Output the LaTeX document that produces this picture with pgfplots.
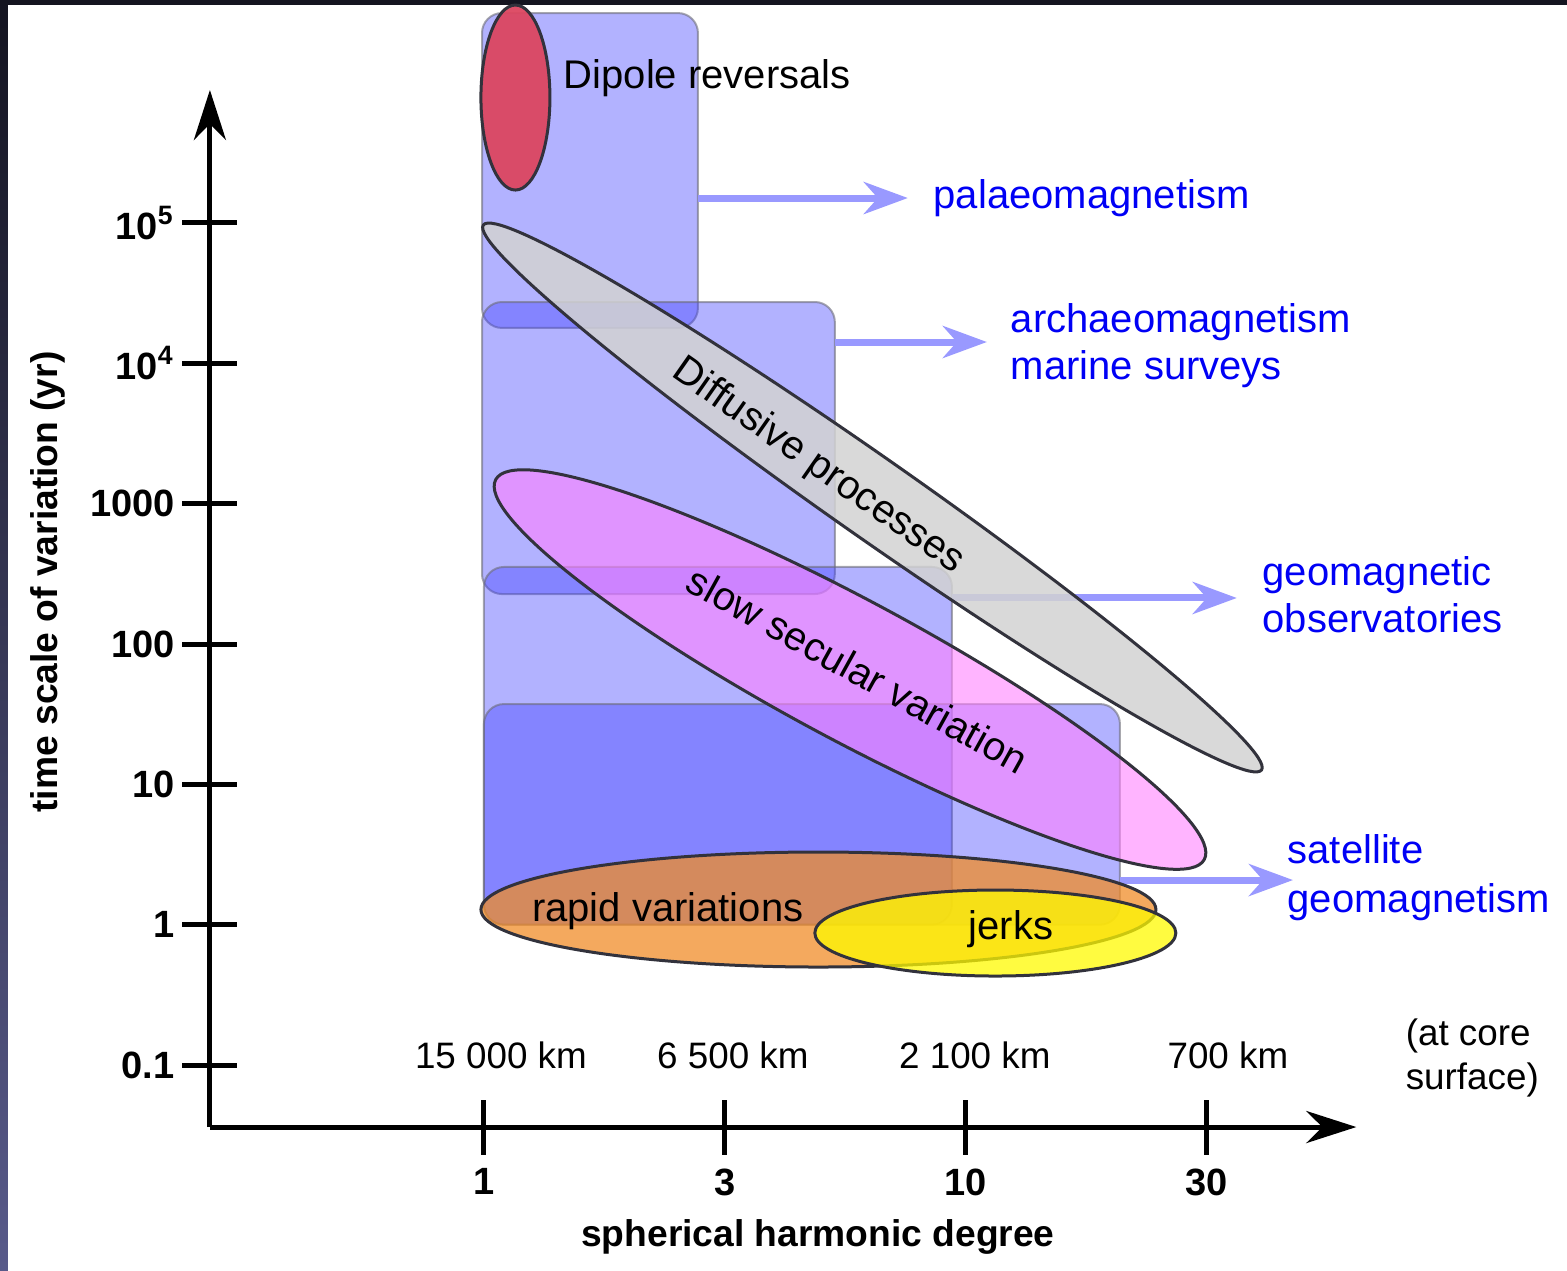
\documentclass[border=0pt]{standalone}
\usepackage{pgfplots}
\pgfplotsset{compat=1.18}
\usepackage{fontspec}
\setmainfont{Liberation Sans}
\usetikzlibrary{arrows.meta,shapes.geometric}
\definecolor{rectblue}{RGB}{63,63,255}
\definecolor{rectedge}{RGB}{110,110,120}
\definecolor{arrowblue}{RGB}{153,153,255}
\definecolor{labelblue}{RGB}{0,0,245}
\definecolor{edge}{RGB}{50,50,60}
\definecolor{dipole}{RGB}{220,70,96}
\definecolor{diffgrey}{RGB}{210,210,210}
\definecolor{pinkv}{RGB}{255,130,255}
\definecolor{orangev}{RGB}{240,140,40}
\definecolor{yellowv}{RGB}{255,250,0}
\definecolor{stripdark}{RGB}{20,20,32}
\definecolor{stripblue}{RGB}{88,90,138}
\begin{document}
\begin{tikzpicture}
\begin{axis}[
  x=60.25pt, y=35.0825pt,
  xmin=-1.137, xmax=3.62, ymin=-1.442, ymax=5.948,
  enlargelimits=false, clip=false,
  axis lines=left,
  axis line style={line width=1.25pt, -{Stealth[length=12.5pt,width=8pt,inset=4pt]}},
  tick align=center, major tick length=13.75pt,
  tick style={line width=1.25pt, black},
  xtick={0,1,2,3}, xticklabels={1,3,10,30},
  ytick={-1,0,1,2,3,4,5},
  yticklabels={0.1,1,10,100,1000,10\textsuperscript{4},10\textsuperscript{5}},
  ticklabel style={font=\fontsize{9.5}{11}\selectfont\bfseries},
  yticklabel style={xshift=1.6pt},
  xlabel={spherical harmonic degree},
  ylabel={time scale of variation (yr)},
  label style={font=\fontsize{9.3}{11}\selectfont\bfseries},
  xlabel style={at={(rel axis cs:0.5304,-0.1061)}, anchor=center},
  ylabel style={at={(rel axis cs:-0.1413,0.5256)}, anchor=center},
]
% screenshot border
\fill[stripdark] (axis cs:-2.008,6.589) rectangle (axis cs:4.494,6.5535);
\shade[top color=stripdark, bottom color=stripblue] (axis cs:-2.008,6.589) rectangle (axis cs:-1.975,-2.461);

% observation ranges (rounded boxes)
\addplot[draw=rectedge, draw opacity=0.6, line width=0.5pt, fill=rectblue, fill opacity=0.4, rounded corners=5pt, mark=none]
  coordinates {(-0.008,6.496) (0.888,6.496) (0.888,4.252) (-0.008,4.252)} -- cycle;
\addplot[draw=rectedge, draw opacity=0.6, line width=0.5pt, fill=rectblue, fill opacity=0.4, rounded corners=5pt, mark=none]
  coordinates {(-0.008,4.437) (1.456,4.437) (1.456,2.356) (-0.008,2.356)} -- cycle;
\addplot[draw=rectedge, draw opacity=0.6, line width=0.5pt, fill=rectblue, fill opacity=0.4, rounded corners=5pt, mark=none]
  coordinates {(0.0,2.549) (1.942,2.549) (1.942,0.0) (0.0,0.0)} -- cycle;
\addplot[draw=rectedge, draw opacity=0.6, line width=0.5pt, fill=rectblue, fill opacity=0.4, rounded corners=5pt, mark=none]
  coordinates {(0.0,1.572) (2.639,1.572) (2.639,0.0) (0.0,0.0)} -- cycle;

% arrows to methods
\addplot[arrowblue, line width=1.75pt, mark=none, -{Stealth[length=11pt,width=8pt,inset=3.5pt]}] coordinates {(0.888,5.178) (1.759,5.178)};
\addplot[arrowblue, line width=1.75pt, mark=none, -{Stealth[length=11pt,width=8pt,inset=3.5pt]}] coordinates {(1.456,4.152) (2.087,4.152)};
\addplot[arrowblue, line width=1.75pt, mark=none, -{Stealth[length=11pt,width=8pt,inset=3.5pt]}] coordinates {(1.942,2.328) (3.124,2.328)};
\addplot[arrowblue, line width=1.75pt, mark=none, -{Stealth[length=11pt,width=8pt,inset=3.5pt]}] coordinates {(2.639,0.318) (3.357,0.318)};

% processes (ellipses)
\node[ellipse, draw=edge, line width=0.75pt, fill=diffgrey, fill opacity=0.85, minimum width=237.5pt, minimum height=20pt, inner sep=0pt, rotate=-35] at (axis cs:1.612,3.044) {};
\node[ellipse, draw=edge, line width=0.75pt, fill=pinkv, fill opacity=0.6, minimum width=201pt, minimum height=35pt, inner sep=0pt, rotate=-28.2] at (axis cs:1.519,1.818) {};
\node[ellipse, draw=edge, line width=0.75pt, fill=orangev, fill opacity=0.75, minimum width=168.75pt, minimum height=28.75pt, inner sep=0pt] at (axis cs:1.388,0.108) {};
\node[ellipse, draw=edge, line width=0.75pt, fill=yellowv, fill opacity=0.75, minimum width=90.25pt, minimum height=21.5pt, inner sep=0pt] at (axis cs:2.122,-0.0595) {};
\node[ellipse, draw=edge, line width=0.75pt, fill=dipole, fill opacity=0.95, minimum width=17.25pt, minimum height=46.25pt, inner sep=0pt] at (axis cs:0.1307,5.894) {};

% texts
\begin{scope}[every node/.style={inner sep=0pt, font=\fontsize{10}{12}\selectfont}]
\node[anchor=base west] at (axis cs:0.328,5.955) {Dipole reversals};
\node[rotate=-35] at (axis cs:1.386,3.265) {Diffusive processes};
\node[rotate=-29] at (axis cs:1.552,1.815) {slow secular variation};
\node[anchor=base] at (axis cs:0.763,0.026) {rapid variations};
\node[anchor=base] at (axis cs:2.187,-0.109) {jerks};
\node[anchor=base west, text=labelblue] at (axis cs:1.863,5.100) {palaeomagnetism};
\node[anchor=base west, text=labelblue] at (axis cs:2.183,4.223) {archaeomagnetism};
\node[anchor=base west, text=labelblue] at (axis cs:2.183,3.888) {marine surveys};
\node[anchor=base west, text=labelblue] at (axis cs:3.228,2.420) {geomagnetic};
\node[anchor=base west, text=labelblue] at (axis cs:3.228,2.085) {observatories};
\node[anchor=base west, text=labelblue] at (axis cs:3.332,0.439) {satellite};
\node[anchor=base west, text=labelblue] at (axis cs:3.332,0.090) {geomagnetism};
\end{scope}
\begin{scope}[every node/.style={inner sep=0pt, font=\fontsize{9.2}{11}\selectfont}]
\node[anchor=base] at (axis cs:0.0705,-1.0215) {15 000 km};
\node[anchor=base] at (axis cs:1.033,-1.0215) {6 500 km};
\node[anchor=base] at (axis cs:2.037,-1.0215) {2 100 km};
\node[anchor=base] at (axis cs:3.087,-1.0215) {700 km};
\node[anchor=base west] at (axis cs:3.822,-0.858) {(at core};
\node[anchor=base west] at (axis cs:3.822,-1.171) {surface)};
\end{scope}
\coordinate (BL) at (axis cs:-2.008,-2.461);
\coordinate (TR) at (axis cs:4.494,6.589);
\end{axis}
\pgfresetboundingbox
\useasboundingbox (BL) rectangle (TR);
\end{tikzpicture}
\end{document}
